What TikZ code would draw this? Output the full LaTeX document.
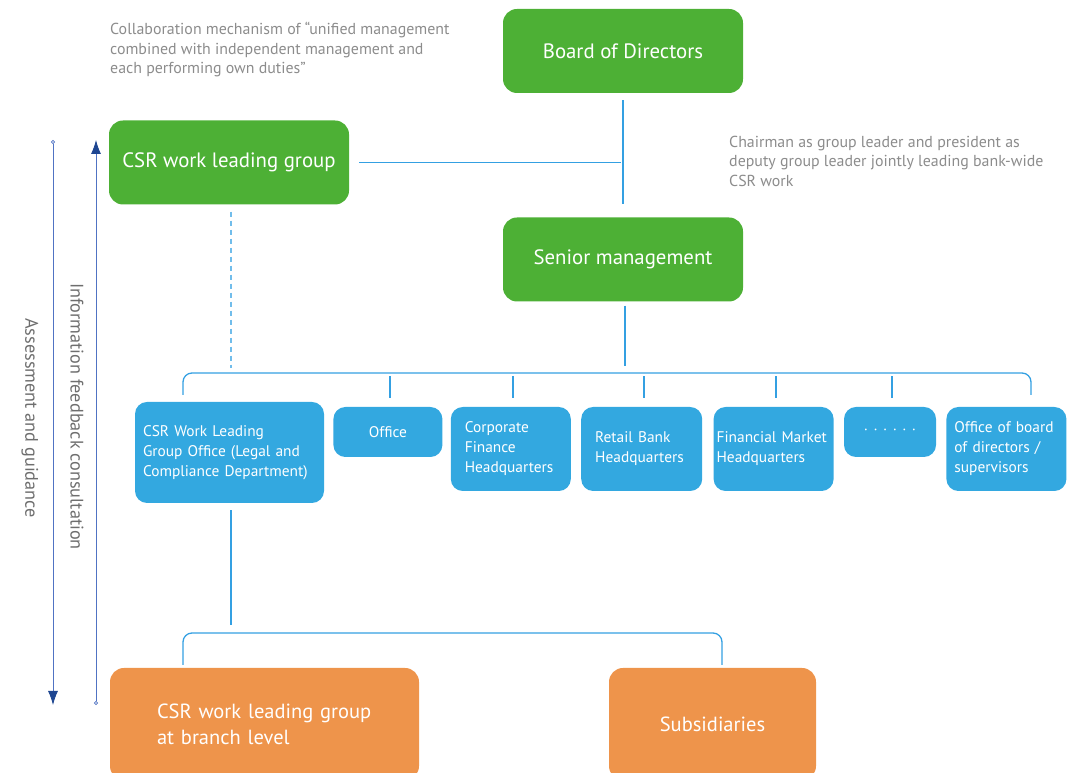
\documentclass[tikz,border=0pt]{standalone}
\usepackage{fontspec}
\setmainfont{PT Sans}
\usepackage{tikz}
\usetikzlibrary{arrows.meta, positioning}
\usepackage{xcolor}

\definecolor{boxgreen}{RGB}{77,176,53}
\definecolor{boxblue}{RGB}{51,168,224}
\definecolor{boxorange}{RGB}{238,148,75}
\definecolor{linkblue}{RGB}{52,160,226}
\definecolor{notegrey}{RGB}{140,140,140}
\definecolor{sidegrey}{RGB}{110,110,110}
\definecolor{navy}{RGB}{30,70,145}
\definecolor{arrowline}{RGB}{80,115,195}

\begin{document}
\begin{tikzpicture}[
        x=1pt, y=1pt,
        greenbox/.style={rectangle, fill=boxgreen, text=white, rounded corners=14pt, minimum width=240pt, minimum height=84pt, font=\fontsize{20.8}{24}\selectfont},
        bluebox/.style={rectangle, fill=boxblue, text=white, rounded corners=12pt, minimum height=84pt, align=left, font=\fontsize{15.4}{20}\selectfont},
        orangebox/.style={rectangle, fill=boxorange, text=white, rounded corners=14pt, minimum height=112pt, font=\fontsize{20.5}{26}\selectfont},
        link/.style={draw=linkblue, line width=1.8pt},
        bracket/.style={draw=linkblue, line width=1.3pt, rounded corners=9pt},
        tick/.style={draw=linkblue, line width=1.8pt},
        note/.style={text=notegrey, align=left, inner sep=0pt, font=\fontsize{15.9}{19.5}\selectfont},
        sidenote/.style={text=sidegrey, inner sep=0pt, font=\fontsize{18.2}{20}\selectfont},
        flow/.style={draw=arrowline, line width=0.8pt, {Circle[open, length=4pt, width=4pt]}-{Latex[length=14pt, width=10pt, color=navy]}}
    ]
    \clip (0,0) rectangle (1071,773);

    % Top level
    \node[greenbox] (board) at (623,722) {Board of Directors};
    \node[greenbox] (senior) at (623,513.5) {Senior management};
    \node[greenbox] (csrgroup) at (229,610.5) {CSR work leading group};

    % Departments
    \node[bluebox, minimum width=189pt, minimum height=101pt, text width=173pt, inner xsep=8pt] (csroffice) at (229.5,320.5) {CSR Work Leading\\Group Office (Legal and\\Compliance Department)};
    \node[bluebox, minimum width=109pt, minimum height=50pt, align=center, right=9pt of csroffice.north east, anchor=north west, yshift=-5pt] (office) {Office};
    \node[bluebox, minimum width=120pt, text width=92pt, inner xsep=14pt, right=8pt of office.north east, anchor=north west] (corpfin) {Corporate\\Finance\\Headquarters};
    \node[bluebox, minimum width=121pt, text width=93pt, inner xsep=14pt, right=10pt of corpfin.north east, anchor=north west] (retail) {Retail Bank\\Headquarters};
    \node[bluebox, minimum width=120pt, text width=114pt, inner xsep=3pt, right=11pt of retail.north east, anchor=north west] (finmkt) {Financial Market\\Headquarters};
    \node[bluebox, minimum width=92pt, minimum height=50pt, align=center, right=10pt of finmkt.north east, anchor=north west] (dots) {\textperiodcentered\hspace{5.5pt}\textperiodcentered\hspace{5.5pt}\textperiodcentered\hspace{5.5pt}\textperiodcentered\hspace{5.5pt}\textperiodcentered\hspace{5.5pt}\textperiodcentered};
    \node[bluebox, minimum width=120pt, text width=104pt, inner xsep=8pt, right=10pt of dots.north east, anchor=north west] (boardoffice) {Office of board\\of directors /\\supervisors};

    % Branch level
    \node[orangebox, minimum width=309pt, text width=215pt, inner xsep=47pt, align=left] (branch) at (264.5,49) {CSR work leading group\\at branch level};
    \node[orangebox, minimum width=207pt] (subs) at (712.5,49) {Subsidiaries};

    % Connections
    \coordinate (j1) at (board.south |- csrgroup.east);
    \coordinate (rowtop) at (625,400);
    \coordinate (bl) at (183,378);
    \coordinate (br) at (1031,378);
    \coordinate (lowtop) at (231,140);
    \coordinate (lbl) at (183,108);
    \coordinate (lbr) at (722,108);

    \path[link, shorten <=7pt, shorten >=13pt] (board) -- (senior);
    \path[link, shorten <=10pt, shorten >=2pt] (csrgroup.east) -- (j1);
    \path[draw=linkblue!70, line width=1.2pt, dash pattern=on 5pt off 4pt, shorten <=7pt, shorten >=34pt] ([xshift=2pt]csrgroup.south) -- ([xshift=1.5pt]csroffice.north);
    \path[link, shorten <=4pt, shorten >=7pt] ([xshift=2pt]senior.south) -- (rowtop);
    \path[bracket] (bl) |- (rowtop) -| (br);
    \foreach \n in {office, corpfin, retail, finmkt, dots}
        \path[tick] ([xshift=2pt, yshift=9pt]\n.north) -- ([xshift=2pt, yshift=31pt]\n.north);
    \path[link, shorten <=7pt, shorten >=8pt] ([xshift=1.5pt]csroffice.south) -- (lowtop);
    \path[bracket] (lbl) |- (lowtop) -| (lbr);

    % Side arrows
    \coordinate (asmtop) at (53,633);
    \coordinate (asmbot) at (53,68);
    \coordinate (fbtop) at (96,633);
    \coordinate (fbbot) at (96,68);
    \path[flow] (asmtop) -- (asmbot);
    \path[flow] (fbbot) -- (fbtop);
    \node[sidenote, rotate=-90] (assess) at (30,355) {Assessment and guidance};
    \node[sidenote, rotate=-90] (feedback) at (77,356.5) {Information feedback consultation};

    % Notes
    \node[note, anchor=west] (collab) at (110,723) {Collaboration mechanism of ``unified management\\combined with independent management and\\each performing own duties''};
    \node[note, anchor=west] (chairman) at (729,612) {Chairman as group leader and president as\\deputy group leader jointly leading bank-wide\\CSR work};

\end{tikzpicture}
\end{document}
